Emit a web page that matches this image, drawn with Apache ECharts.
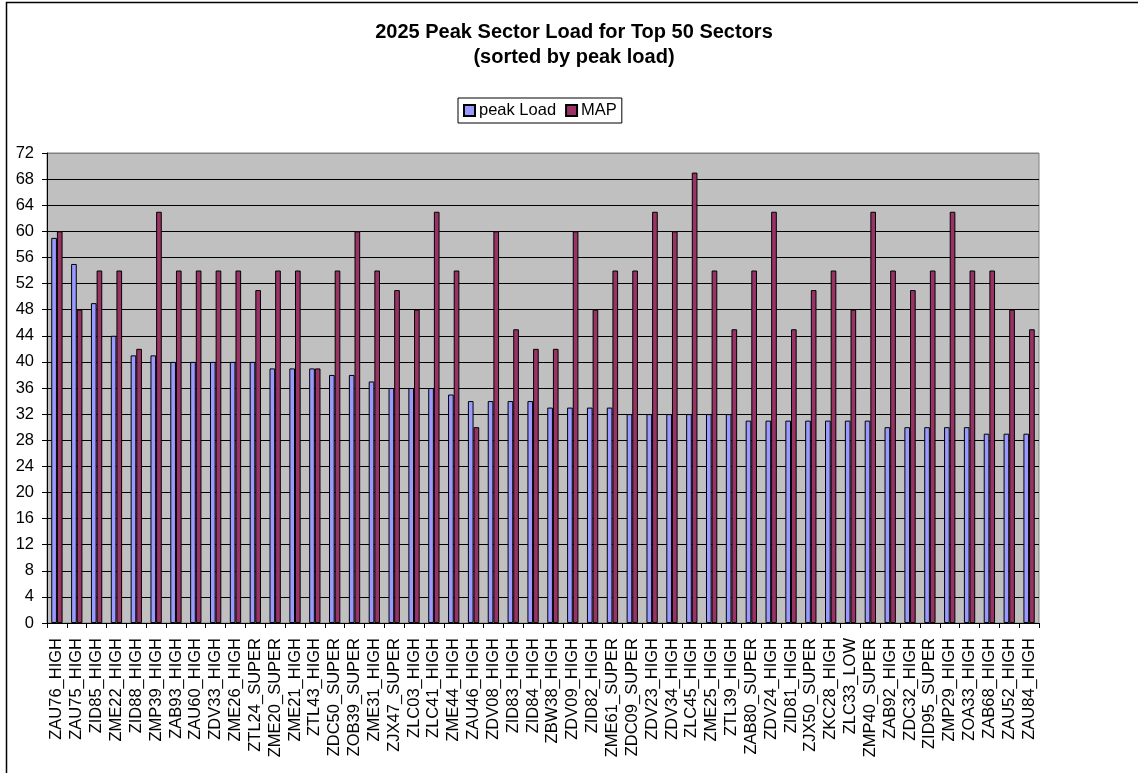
<!DOCTYPE html>
<html>
<head>
<meta charset="utf-8">
<script src="https://cdn.jsdelivr.net/npm/echarts@6/dist/echarts.min.js"></script>
<style>html,body{margin:0;padding:0;background:#fff;}#c{width:1138px;height:773px;}</style>
</head>
<body>
<div id="c"></div>
<script>
const categories = ["ZAU76_HIGH","ZAU75_HIGH","ZID85_HIGH","ZME22_HIGH","ZID88_HIGH","ZMP39_HIGH","ZAB93_HIGH","ZAU60_HIGH","ZDV33_HIGH","ZME26_HIGH","ZTL24_SUPER","ZME20_SUPER","ZME21_HIGH","ZTL43_HIGH","ZDC50_SUPER","ZOB39_SUPER","ZME31_HIGH","ZJX47_SUPER","ZLC03_HIGH","ZLC41_HIGH","ZME44_HIGH","ZAU46_HIGH","ZDV08_HIGH","ZID83_HIGH","ZID84_HIGH","ZBW38_HIGH","ZDV09_HIGH","ZID82_HIGH","ZME61_SUPER","ZDC09_SUPER","ZDV23_HIGH","ZDV34_HIGH","ZLC45_HIGH","ZME25_HIGH","ZTL39_HIGH","ZAB80_SUPER","ZDV24_HIGH","ZID81_HIGH","ZJX50_SUPER","ZKC28_HIGH","ZLC33_LOW","ZMP40_SUPER","ZAB92_HIGH","ZDC32_HIGH","ZID95_SUPER","ZMP29_HIGH","ZOA33_HIGH","ZAB68_HIGH","ZAU52_HIGH","ZAU84_HIGH"];
const peakLoad = [59,55,49,44,41,41,40,40,40,40,40,39,39,39,38,38,37,36,36,36,35,34,34,34,34,33,33,33,33,32,32,32,32,32,32,31,31,31,31,31,31,31,30,30,30,30,30,29,29,29];
const mapValues = [60,48,54,54,42,63,54,54,54,54,51,54,54,39,54,60,54,51,48,63,54,30,60,45,42,42,60,48,54,54,63,60,69,54,45,54,63,45,51,54,48,63,54,51,54,63,54,54,48,45];
const titleLines = ["2025 Peak Sector Load for Top 50 Sectors", "(sorted by peak load)"];
const seriesNames = ["peak Load", "MAP"];
const yMin = 0, yMax = 72, yStep = 4;

const FONT = 'Arial, "Liberation Sans", sans-serif';
const gridLineColors = [];
for (let v = yMin; v <= yMax; v += yStep) gridLineColors.push(v === yMax ? '#808080' : '#000000');

const chart = echarts.init(document.getElementById('c'), null, {renderer: 'canvas'});
chart.setOption({
  animation: false,
  backgroundColor: '#ffffff',
  graphic: [{
    type: 'rect', silent: true, z: -10,
    shape: {x: 6.5, y: 2.5, width: 1300, height: 900},
    style: {fill: 'none', stroke: '#000', lineWidth: 1.5}
  }],
  title: {
    text: titleLines.join('\n'),
    left: 574, top: 20, padding: 0,
    textAlign: 'center',
    textStyle: {fontFamily: FONT, fontSize: 20, fontWeight: 'bold', color: '#000', lineHeight: 25}
  },
  legend: {
    data: seriesNames,
    left: 458, top: 98,
    padding: [4, 5, 4, 5],
    itemWidth: 11, itemHeight: 11, itemGap: 9,
    borderColor: '#000', borderWidth: 1,
    icon: 'rect',
    textStyle: {fontFamily: FONT, fontSize: 16.5, color: '#000', padding: [0, 0, 0, -1]}
  },
  grid: {
    left: 47, right: 99, top: 153, bottom: 150,
    show: true, backgroundColor: '#C0C0C0', borderColor: '#808080', borderWidth: 1
  },
  xAxis: {
    type: 'category',
    data: categories,
    axisLine: {lineStyle: {color: '#000', width: 1}},
    axisTick: {show: true, length: 5, lineStyle: {color: '#000'}},
    axisLabel: {interval: 0, rotate: 90, margin: 15, fontFamily: FONT, fontSize: 16.5, color: '#000'}
  },
  yAxis: {
    type: 'value',
    min: yMin, max: yMax, interval: yStep,
    axisLine: {show: true, lineStyle: {color: '#000', width: 1}},
    axisTick: {show: true, length: 5, lineStyle: {color: '#000'}},
    axisLabel: {margin: 13, fontFamily: FONT, fontSize: 16.5, color: '#000'},
    splitLine: {show: true, lineStyle: {color: gridLineColors, width: 1}}
  },
  series: [
    {
      name: seriesNames[0], type: 'bar', data: peakLoad,
      barGap: '0%', barCategoryGap: '43%',
      itemStyle: {color: '#9999FF', borderColor: '#000', borderWidth: 1}
    },
    {
      name: seriesNames[1], type: 'bar', data: mapValues,
      itemStyle: {color: '#993366', borderColor: '#000', borderWidth: 1}
    }
  ]
});
</script>
</body>
</html>
